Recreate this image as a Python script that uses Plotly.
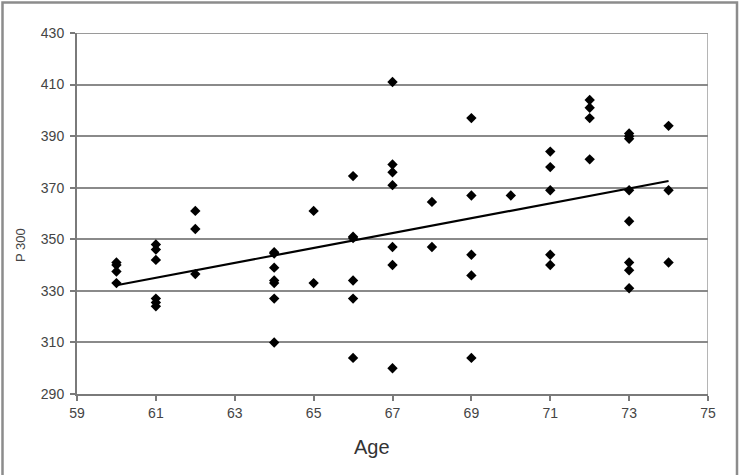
import numpy as np
import plotly.graph_objects as go

# Data (age, P300 latency)
age_60 = [341, 340, 337.5, 333]
age_61 = [348, 346, 342, 327, 325.5, 324]
age_62 = [361, 354, 336.5]
age_64 = [345, 344.5, 339, 334, 333, 327, 310]
age_65 = [361, 333]
age_66 = [374.5, 351, 350.5, 334, 327, 304]
age_67 = [411, 379, 376, 371, 347, 340, 300]
age_68 = [364.5, 347]
age_69 = [397, 367, 344, 336, 304]
age_70 = [367]
age_71 = [384, 378, 369, 344, 340]
age_72 = [404, 401, 397, 381]
age_73 = [391, 390, 389, 369, 357, 341, 338, 331]
age_74 = [394, 369, 341]

groups = {60: age_60, 61: age_61, 62: age_62, 64: age_64, 65: age_65, 66: age_66,
          67: age_67, 68: age_68, 69: age_69, 70: age_70, 71: age_71, 72: age_72,
          73: age_73, 74: age_74}

xs, ys = [], []
for a, vals in groups.items():
    for v in vals:
        xs.append(a)
        ys.append(v)
xs = np.array(xs, dtype=float)
ys = np.array(ys, dtype=float)

x_ticks = [59, 61, 63, 65, 67, 69, 71, 73, 75]
y_ticks = [290, 310, 330, 350, 370, 390, 410, 430]

slope, intercept = np.polyfit(xs, ys, 1)
tx = np.array([xs.min(), xs.max()])
ty = slope * tx + intercept

fig = go.Figure()
fig.add_trace(go.Scatter(x=tx, y=ty, mode="lines",
                         line=dict(color="black", width=2.2), hoverinfo="skip"))
fig.add_trace(go.Scatter(x=xs, y=ys, mode="markers",
                         marker=dict(symbol="diamond", size=8, color="black")))

W, H = 740, 475
L, R, T, B = 77, 32, 33, 81
pw, ph = W - L - R, H - T - B

def px(xp):
    return (xp - L) / pw

def py(yp):
    return (H - B - yp) / ph

tickfont = dict(family="Liberation Sans, Arial, sans-serif", size=14, color="#444444")

fig.update_layout(
    width=W, height=H,
    margin=dict(l=L, r=R, t=T, b=B),
    paper_bgcolor="white", plot_bgcolor="white",
    showlegend=False,
    xaxis=dict(range=[59, 75], tickvals=x_ticks, ticktext=[str(v) for v in x_ticks],
               showgrid=False, zeroline=False, showline=True, linecolor="#7a7a7a",
               linewidth=2, ticks="outside", ticklen=5, tickwidth=1.5,
               tickcolor="#7a7a7a", tickfont=tickfont),
    yaxis=dict(range=[290, 430], tickvals=y_ticks, ticktext=[str(v) for v in y_ticks],
               showgrid=True, gridcolor="#8a8a8a", gridwidth=2, zeroline=False,
               showline=True, linecolor="#7a7a7a", linewidth=2, ticks="outside",
               ticklen=5, tickwidth=1.5, tickcolor="#7a7a7a", tickfont=tickfont,
               ticklabelstandoff=3),
    shapes=[
        dict(type="line", xref="x", yref="y", x0=75, x1=75, y0=290, y1=430,
             line=dict(color="#b5b5b5", width=2), layer="below"),
        dict(type="line", xref="x", yref="y", x0=59, x1=75, y0=430, y1=430,
             line=dict(color="#9a9a9a", width=2), layer="below"),
        dict(type="rect", xref="paper", yref="paper",
             x0=px(2.5), x1=px(737), y0=py(490), y1=py(2.5),
             line=dict(color="#8c8c8c", width=2.5), fillcolor="rgba(0,0,0,0)"),
    ],
    annotations=[
        dict(text="Age", xref="paper", yref="paper", x=px(372), y=py(447),
             showarrow=False, xanchor="center", yanchor="middle",
             font=dict(family="Liberation Sans, Arial, sans-serif", size=20, color="#333333")),
        dict(text="P 300", xref="paper", yref="paper", x=px(21), y=py(245),
             showarrow=False, xanchor="center", yanchor="middle", textangle=-90,
             font=dict(family="Liberation Sans, Arial, sans-serif", size=13, color="#444444")),
    ],
)

fig.write_html("out.html")
